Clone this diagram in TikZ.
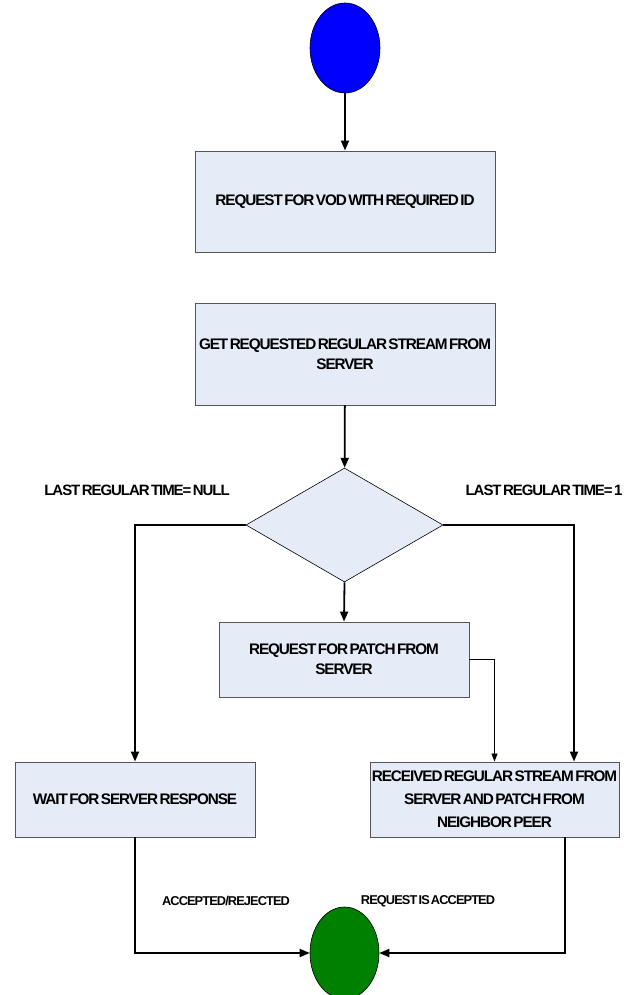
\documentclass[tikz,border=0pt]{standalone}
\usepackage{fontspec}
\setmainfont{Liberation Sans}[LetterSpace=-7,WordSpace=0.45]
\usetikzlibrary{arrows.meta,shapes.geometric}
\definecolor{boxfill}{HTML}{E6ECF7}
\definecolor{boxline}{HTML}{555555}
\definecolor{startblue}{HTML}{0000FF}
\definecolor{endgreen}{HTML}{008000}
\begin{document}
\begin{tikzpicture}[x=1pt,y=-1pt,
  procbox/.style={draw=boxline,line width=0.9pt,fill=boxfill,rectangle,inner sep=0pt,
    align=center,font=\bfseries\fontsize{15.3}{20}\selectfont},
  decision/.style={draw=black,line width=0.6pt,fill=boxfill,diamond,inner sep=0pt,
    minimum width=197pt,minimum height=114pt},
  terminal/.style={draw=black,line width=0.6pt,ellipse,inner sep=0pt},
  flow/.style={line width=1.8pt,-{Triangle[length=10pt,width=8pt]}},
  thinflow/.style={line width=0.8pt,-{Triangle[length=8pt,width=6pt]}},
  lbl/.style={font=\bfseries\fontsize{15}{16}\selectfont,inner sep=0pt},
  smalllbl/.style={font=\bfseries\fontsize{12.8}{14}\selectfont,inner sep=0pt}]
\useasboundingbox (0,0) rectangle (637,995);

% terminals
\node[terminal,fill=startblue,minimum width=70pt,minimum height=90pt] (start) at (345,48) {};
\node[terminal,fill=endgreen,minimum width=69pt,minimum height=92pt] (stop) at (344.5,953) {};

% process steps
\node[procbox,minimum width=300pt,minimum height=101pt] (req) at (345,201.5)
  {REQUEST FOR VOD WITH REQUIRED ID};
\node[procbox,minimum width=300pt,minimum height=102pt] (get) at (345,354)
  {GET REQUESTED REGULAR STREAM FROM\\SERVER};
\node[decision] (dec) at (344.5,525) {};
\node[procbox,minimum width=250pt,minimum height=75pt] (patch) at (344,659.5)
  {REQUEST FOR PATCH FROM\\SERVER};
\node[procbox,minimum width=240pt,minimum height=75pt] (wait) at (135,799.5)
  {WAIT FOR SERVER RESPONSE};
\node[procbox,minimum width=249pt,minimum height=75pt,font=\bfseries\fontsize{15.3}{23}\selectfont]
  (recv) at (494.5,799.5)
  {RECEIVED REGULAR STREAM FROM\\SERVER AND PATCH FROM\\NEIGHBOR PEER};

% branch conditions and outcomes
\node[lbl] (lnull) at (137,490) {LAST REGULAR TIME= NULL};
\node[lbl] (lone) at (544,490) {LAST REGULAR TIME= 1};
\node[smalllbl] (lacc) at (226,901) {ACCEPTED/REJECTED};
\node[smalllbl] (lreq) at (428,901) {REQUEST IS ACCEPTED};

% connectors
\coordinate (rdrop) at ([xshift=79.5pt]recv.north);
\coordinate (rrise) at ([xshift=70.5pt]recv.south);
\draw[flow] (start) -- (req);
\draw[flow] (get) -- (dec);
\draw[flow] (dec.west) -| (wait.north);
\draw[flow] (dec.east) -| (rdrop);
\draw[flow] (dec.south) -- (patch.north);
\draw[thinflow] (patch.east) -| (recv.north);
\draw[flow] (wait.south) |- (stop.west);
\draw[flow] (rrise) |- (stop.east);
\end{tikzpicture}
\end{document}
